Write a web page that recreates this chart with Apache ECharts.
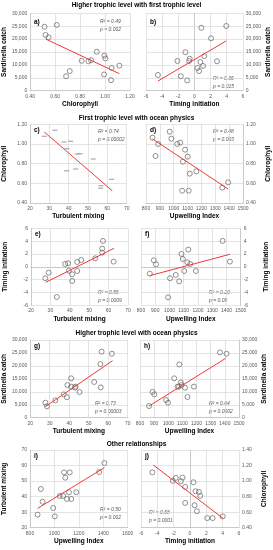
<!DOCTYPE html>
<html><head><meta charset="utf-8">
<script src="https://cdn.jsdelivr.net/npm/echarts@6/dist/echarts.min.js"></script>
<style>html,body{margin:0;padding:0;background:#fff}#c{width:273px;height:550px}</style>
</head><body><div id="c"></div>
<script>
// ---- data ----
// a) Chlorophyll vs Sardinella catch
const aChl   = [0.515,0.613,0.523,0.547,0.813,0.867,0.888,0.933,0.995,1.003,1.115,1.053,0.992,0.717,0.688,1.048];
const aCatch = [24800,25500,21600,20700,11600,11400,11800,15100,13600,12500,9700,8800,6300,7600,5600,4100];
const aFitX = [0.525,1.115], aFitY = [20000,6600];
// b) Timing initiation vs Sardinella catch
const bTim   = [-4.52,0.86,3.95,2.06,-1.11,-2.10,-0.58,-0.66,1.23,0.74,2.80,1.07,0.37,0.58,-1.68,-0.90];
const bCatch = [6100,24400,25100,20300,14900,11500,12400,11500,13400,11100,11400,9600,8800,7600,5600,4000];
const bFitX = [-4.52,3.95], bFitY = [3750,19300];
// c) Turbulent mixing vs Chlorophyll
const cTurb = [27.4,32.9,37.6,41.0,39.1,44.3,45.9,39.0,43.6,52.7,62.2,56.7,56.5];
const cChl  = [1.078,1.139,1.020,1.027,0.952,0.898,0.901,0.728,0.746,0.847,0.641,0.576,0.550];
const cFitX = [27.4,62.5], cFitY = [1.122,0.525];
// d) Upwelling Index vs Chlorophyll
const dUpw = [847,971,983,888,869,1025,1047,1082,1101,1066,1116,1163,1061,1108,1351,1393];
const dChl = [1.064,1.125,1.054,1.000,0.878,1.000,1.014,0.942,0.871,0.820,0.698,0.722,0.525,0.525,0.556,0.610];
const dFitX = [847,1393], dFitY = [1.051,0.542];
// e) Turbulent mixing vs Timing initiation
const eTurb = [27.4,29.1,33.3,37.6,39.1,39.5,41.2,41.2,43.8,43.8,45.9,53.1,57.1,56.7,56.7,62.6];
const eTim  = [-1.79,-0.91,-4.70,0.44,0.55,-0.60,-1.17,-2.21,0.75,-0.65,1.06,1.32,4.03,2.83,2.21,0.81];
const eFitX = [27.6,62.8], eFitY = [-2.42,2.88];
// f) Upwelling Index vs Timing initiation
const fUpw = [862,890,905,990,1004,1044,1068,1084,1094,1103,1125,1132,1146,1185,1373,1424];
const fTim = [-1.06,1.01,0.39,-4.75,-1.79,-1.27,-2.26,2.0,1.22,-0.65,0.70,2.68,0.44,-0.65,4.03,0.81];
const fFitX = [862,1424], fFitY = [-1.38,1.95];
// g) Turbulent mixing vs Sardinella catch
const gTurb  = [27.8,28.6,32.9,37.2,38.8,39.1,41.0,41.0,43.3,42.9,45.3,52.8,56.2,56.0,56.6,61.9];
const gCatch = [5800,4400,6700,9000,7900,12600,15200,12000,12000,11600,9900,13800,11700,20700,25500,24700];
const gFitX = [27.8,62.2], gFitY = [4250,22000];
// h) Upwelling Index vs Sardinella catch
const hUpw   = [864,889,901,984,998,1042,1078,1066,1089,1094,1118,1136,1181,1365,1412,1075];
const hCatch = [4500,10000,9000,6800,5800,15200,20600,12000,13600,12600,11600,8000,12000,25200,24700,12000];
const hFitX = [864,1405], hFitY = [4500,22900];
// i) Upwelling Index vs Turbulent mixing
const iUpw  = [862,889,903,990,1003,1044,1071,1079,1089,1125,1103,1119,1138,1179,1366,1409];
const iTurb = [28.4,44.9,36.7,32.7,27.3,40.4,40.4,55.6,52.2,55.6,38.5,42.8,38.5,42.8,55.8,61.6];
const iFitX = [862,1409], iFitY = [32.4,58.6];
// j) Timing initiation vs Chlorophyll
const jTim = [-4.61,-2.11,-1.74,-1.12,-0.92,-0.59,0.43,0.68,1.09,1.25,-0.59,0.56,0.84,2.11,2.77,4.0];
const jChl = [1.112,1.003,1.041,0.998,1.045,0.925,0.985,0.869,0.860,0.809,0.719,0.689,0.612,0.524,0.524,0.545];
const jFitX = [-4.48,4.0], jFitY = [1.206,0.524];

const sectionTitles = ['Higher trophic level with first trophic level','First trophic level with ocean physics','Higher trophic level with ocean physics','Other relationships'];
const panelLetters = ['a)','b)','c)','d)','e)','f)','g)','h)','i)','j)'];
const rsq = ['R² = 0.49','R² = 0.36','R² = 0.74','R² = 0.48','R² = 0.56','R² = 0.20','R² = 0.73','R² = 0.64','R² = 0.50','R² = 0.68'];
const pval = ['p = 0.002','p = 0.015','p = 0.00002','p = 0.003','p = 0.0009','p = 0.09','p = 0.00003','p = 0.0002','p = 0.002','p = 0.0001'];

// ---- layout ----
const fmtCatch = v => v.toLocaleString('en-US');
const fmt2 = v => v.toFixed(2);
const fmt0 = v => String(Math.round(v));
const CATCH = {name:'Sardinella catch', min:0, max:30000, interval:5000, fmt:fmtCatch};
const CHL = {name:'Chlorophyll', min:0.4, max:1.2, interval:0.2, fmt:fmt2};
const CHL14 = {name:'Chlorophyll', min:0.4, max:1.4, interval:0.2, fmt:fmt2};
const TIM = {name:'Timing initiation', min:-6, max:6, interval:2, fmt:fmt0};
const TURB = {name:'Turbulent mixing', min:20, max:70, interval:10, fmt:fmt0};
const TURBY = {name:'Turbulent mixing', min:20, max:70, interval:10, fmt:fmt0};
const UPW = {name:'Upwelling Index', min:800, max:1500, interval:100, fmt:fmt0};
const UPW16 = {name:'Upwelling Index', min:800, max:1600, interval:200, fmt:fmt0};
const CHLX = {name:'Chlorophyll', min:0.4, max:1.2, interval:0.2, fmt:fmt2};

const panels = [
 {g:[30,13.3,100,77.4], x:CHLX, y:CATCH, right:false, xs:aChl, ys:aCatch, fx:aFitX, fy:aFitY, txt:[100,19,'tr']},
 {g:[146,13.3,97,77.4], x:TIM, y:CATCH, right:true, xs:bTim, ys:bCatch, fx:bFitX, fy:bFitY, txt:[213,76,'br']},
 {g:[30,124.3,96.7,78.7], x:TURB, y:CHL, right:false, xs:cTurb, ys:cChl, fx:cFitX, fy:cFitY, txt:[98,129,'tr'], dash:true},
 {g:[146,124.3,98,78.7], x:UPW, y:CHL, right:true, xs:dUpw, ys:dChl, fx:dFitX, fy:dFitY, txt:[213,129,'tr']},
 {g:[31,228.3,97,77], x:TURB, y:TIM, right:false, xs:eTurb, ys:eTim, fx:eFitX, fy:eFitY, txt:[98,290,'br']},
 {g:[141,228.3,99.7,77], x:UPW, y:TIM, right:true, xs:fUpw, ys:fTim, fx:fFitX, fy:fFitY, txt:[209,290,'br']},
 {g:[30,340,97.7,77.7], x:TURB, y:CATCH, right:false, xs:gTurb, ys:gCatch, fx:gFitX, fy:gFitY, txt:[95,401,'br']},
 {g:[140,340,99,77.7], x:UPW, y:CATCH, right:true, xs:hUpw, ys:hCatch, fx:hFitX, fy:hFitY, txt:[209,401,'br']},
 {g:[30,450,97.7,77.7], x:UPW16, y:TURBY, right:false, xs:iUpw, ys:iTurb, fx:iFitX, fy:iFitY, txt:[100,507,'br']},
 {g:[141,450,98,77.7], x:TIM, y:CHL14, right:true, xs:jTim, ys:jChl, fx:jFitX, fy:jFitY, txt:[149,510,'bl']}
];
const letterPos = [[34,19],[150,19],[34,127],[150,127],[35,231],[145,231],[34,343],[144,343],[34,453],[145,453]];
const titlePos = [6,119,334,445];

const FONT = 'Liberation Sans, Arial, sans-serif';
const grid=[], xAxis=[], yAxis=[], series=[], graphic=[];
const gridCol = '#d9d9d9', axCol = '#bfbfbf', tickCol = '#595959';
panels.forEach((p,i)=>{
  grid.push({left:p.g[0], top:p.g[1], width:p.g[2], height:p.g[3], containLabel:false});
  xAxis.push({gridIndex:i, type:'value', min:p.x.min, max:p.x.max, interval:p.x.interval,
    name:p.x.name, nameLocation:'middle', nameGap:10,
    nameTextStyle:{fontFamily:FONT, fontSize:6.5, fontWeight:'bold', color:'#000'},
    axisLine:{lineStyle:{color:axCol, width:0.7}}, axisTick:{show:false},
    axisLabel:{fontFamily:FONT, fontSize:5, color:tickCol, margin:3, formatter:p.x.fmt},
    splitLine:{show:true, lineStyle:{color:gridCol, width:0.7}}});
  yAxis.push({gridIndex:i, type:'value', min:p.y.min, max:p.y.max, interval:p.y.interval,
    position:p.right?'right':'left',
    name:p.y.name, nameLocation:'middle', nameGap:p.right?22:22, nameRotate:90,
    nameTextStyle:{fontFamily:FONT, fontSize:6.5, fontWeight:'bold', color:'#000'},
    axisLine:{show:true, lineStyle:{color:axCol, width:0.7}}, axisTick:{show:false},
    axisLabel:{fontFamily:FONT, fontSize:5, color:tickCol, margin:3, formatter:p.y.fmt},
    splitLine:{show:true, lineStyle:{color:gridCol, width:0.7}}});
  series.push({type:'scatter', xAxisIndex:i, yAxisIndex:i,
    data:p.xs.map((v,k)=>[v,p.ys[k]]),
    symbol: p.dash ? 'rect' : 'circle',
    symbolSize: p.dash ? [5,1.3] : 5,
    itemStyle: p.dash ? {color:'#9a9a9a'} : {color:'rgba(255,255,255,0)', borderColor:'#666', borderWidth:0.9},
    z:3, silent:true});
  series.push({type:'line', xAxisIndex:i, yAxisIndex:i,
    data:p.fx.map((v,k)=>[v,p.fy[k]]), showSymbol:false, symbol:'none',
    lineStyle:{color:'#f0383a', width:1}, z:4, silent:true});
  // R2 and p texts
  const tx = p.txt[0], ty = p.txt[1];
  graphic.push({type:'text', left:tx, top:ty, style:{text:rsq[i], font:'italic 5px '+FONT, fill:'#595959'}});
  graphic.push({type:'text', left:tx, top:ty+8, style:{text:pval[i], font:'italic 5px '+FONT, fill:'#595959'}});
  graphic.push({type:'text', left:letterPos[i][0], top:letterPos[i][1], style:{text:panelLetters[i], font:'bold 6.5px '+FONT, fill:'#000'}});
});
sectionTitles.forEach((t,k)=>{
  graphic.push({type:'text', left:'center', top:titlePos[k]-4, style:{text:t, font:'bold 6.5px '+FONT, fill:'#000', textAlign:'center'}});
});

const chart = echarts.init(document.getElementById('c'), null, {renderer:'canvas'});
chart.setOption({animation:false, backgroundColor:'#fff', grid, xAxis, yAxis, series, graphic});
</script></body></html>
